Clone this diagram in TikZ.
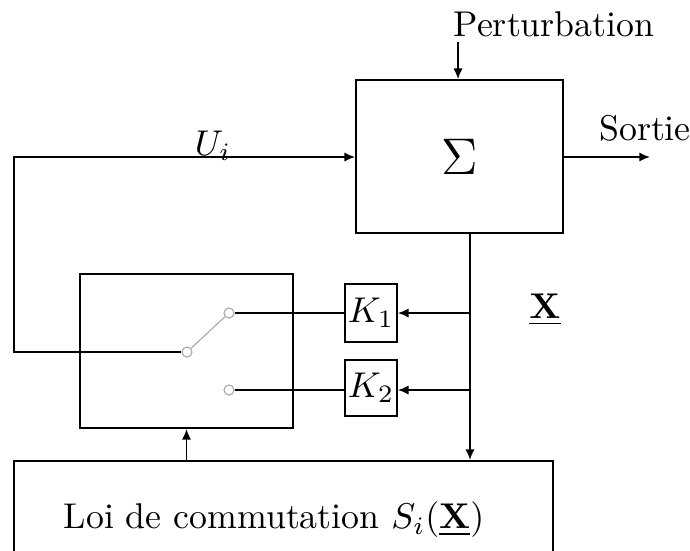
\documentclass[tikz,border=0pt]{standalone}
\usetikzlibrary{arrows.meta}
\begin{document}
\begin{tikzpicture}[x=0.2793pt,y=-0.2793pt,
  ln/.style={line width=0.5pt},
  arr/.style={ln,-{Latex[length=3pt,width=2.6pt]}},
  blk/.style={draw,ln,rectangle,inner sep=0pt},
  contact/.style={draw=black!35,circle,fill=white,minimum size=2.8pt,inner sep=0pt,line width=0.3pt},
  lbl/.style={inner sep=0pt}]
\useasboundingbox (0,0) rectangle (690,550);
% blocks
\node[blk,minimum width=57.8pt,minimum height=42.7pt] (sigma) at (459.5,156.5) {\fontsize{13.5}{16}\selectfont$\Sigma$};
\node[blk,minimum width=59.5pt,minimum height=43pt] (sw) at (186.5,351) {};
\node[blk,minimum width=14.5pt,minimum height=16.2pt] (K1) at (371,313) {$K_1$};
\node[blk,minimum width=14.5pt,minimum height=15.6pt] (K2) at (371,388) {$K_2$};
\node[blk,minimum width=150.5pt,minimum height=33pt] (loi) at (283.5,520) {};
\node[lbl] (loitext) at (274,520) {Loi de commutation $S_i(\underline{\mathbf{X}})$};
% labels
\node[lbl] (pert) at (554,24) {Perturbation};
\node[lbl] (sortie) at (645,128) {Sortie};
\node[lbl] (ui) at (213,146) {$U_i$};
\node[lbl] (xlab) at (545,310) {$\underline{\mathbf{X}}$};
% switch contacts
\node[contact] (p) at (187,352) {};
\node[contact] (c1) at (229,313) {};
\node[contact] (c2) at (229,390) {};
\draw[black!35,line width=0.3pt] (p) -- (c1);
% coordinates
\coordinate (pin) at (458,42);
\coordinate (sout) at (650,157);
\coordinate (lcorner) at (14,352);
\coordinate (bus) at (470,300);
% connectors
\draw[arr] (pin) -- (pin |- sigma.north);
\draw[arr] (sigma.east |- sout) -- (sout);
\draw[arr] (p.west) -- (lcorner) -- (lcorner |- sout) -- (sigma.west |- sout);
\draw[ln] (c1.east) -- (c1 -| K1.west);
\draw[ln] (c2.east) -- (c2 -| K2.west);
\draw[arr] (sigma.south -| bus) -- (loi.north -| bus);
\draw[arr] (K1.east -| bus) -- (K1.east);
\draw[arr] (c2 -| bus) -- (c2 -| K2.east);
\draw[arr] (loi.north -| sw.south) -- (sw.south);
\end{tikzpicture}
\end{document}
